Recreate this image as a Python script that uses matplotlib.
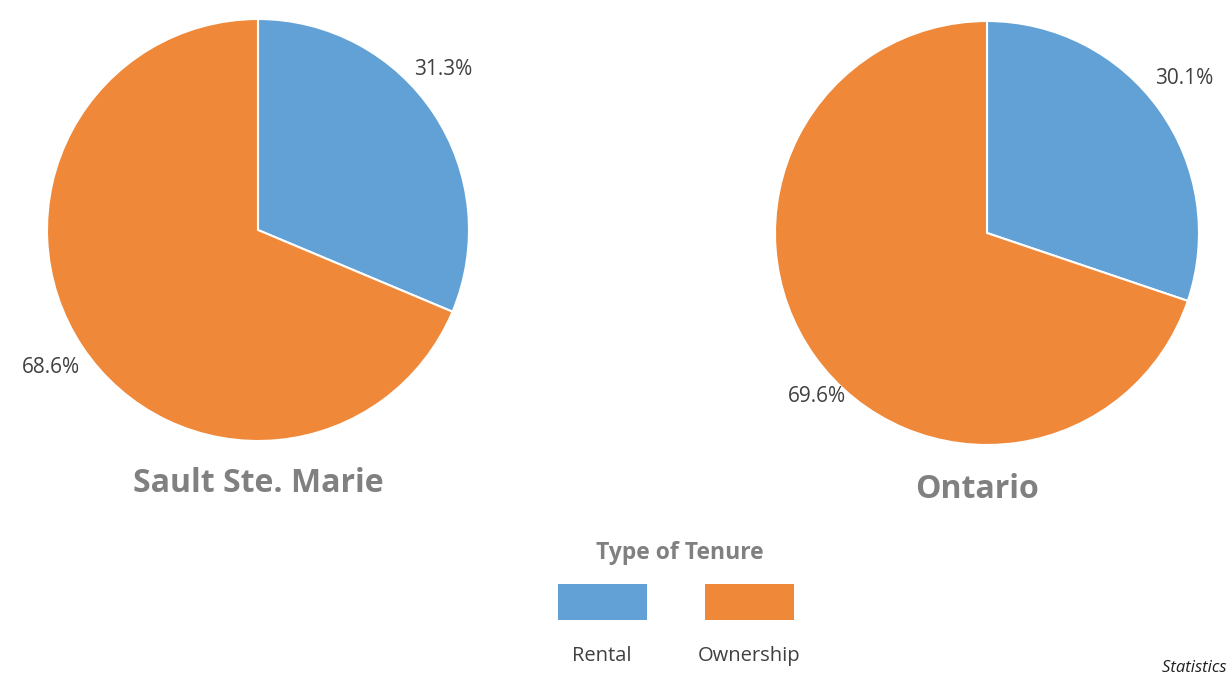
import matplotlib.pyplot as plt
from matplotlib.patches import Rectangle

W, H = 1227, 679

# data
regions = ["Sault Ste. Marie", "Ontario"]
tenure = ["Rental", "Ownership"]
sault = [31.3, 68.6]
ontario = [30.1, 69.6]
colors = ["#62A1D6", "#EF8839"]

plt.rcParams['font.family'] = ['Open Sans', 'DejaVu Sans']

fig = plt.figure(figsize=(W / 100, H / 100), dpi=100)


def px_axes(cx, cy, r):
    # axes box in figure fraction from pixel centre / radius
    return fig.add_axes([(cx - r) / W, 1 - (cy + r) / H, 2 * r / W, 2 * r / H])


def draw_pie(ax, vals, ldist):
    wedges, texts = ax.pie(vals, colors=colors, startangle=90, counterclock=False,
                           labels=["%.1f%%" % v for v in vals], labeldistance=ldist,
                           wedgeprops=dict(edgecolor="white", linewidth=1.5),
                           textprops=dict(fontsize=15, color="#404040"))
    for t in texts:
        t.set_ha("center")
        t.set_va("center")
        t.set_clip_on(False)
    ax.set_xlim(-1, 1)
    ax.set_ylim(-1, 1)
    ax.set_aspect("equal")
    ax.axis("off")
    return texts


ax1 = px_axes(258, 230, 211)
t1 = draw_pie(ax1, sault, 1.18)
t1[0].set_position((0.88, 0.76))
ax2 = px_axes(987, 233, 212)
t2 = draw_pie(ax2, ontario, 1.15)
t2[0].set_position((0.93, 0.73))
t2[1].set_position((-0.80, -0.77))

fig.text(258 / W, 1 - 483 / H, regions[0], ha="center", va="center",
         fontsize=23, fontweight="bold", color="#808080")
fig.text(977 / W, 1 - 489 / H, regions[1], ha="center", va="center",
         fontsize=23, fontweight="bold", color="#808080")

# legend
fig.text(680 / W, 1 - 553 / H, "Type of Tenure", ha="center", va="center",
         fontsize=16.5, fontweight="bold", color="#808080")
for x0, c, lab in zip([558, 705], colors, tenure):
    fig.patches.append(Rectangle((x0 / W, 1 - 620 / H), 89 / W, 36 / H,
                                 transform=fig.transFigure, facecolor=c, edgecolor="none"))
    fig.text((x0 + 44) / W, 1 - 656 / H, lab, ha="center", va="center",
             fontsize=14.5, color="#404040")

# source note runs off the right edge, as in the original
fig.text(1162 / W, 1 - 668 / H, "Statistics Canada", ha="left", va="center",
         fontsize=12, style="italic", color="#202020")

fig.savefig("out.png", dpi=100)
